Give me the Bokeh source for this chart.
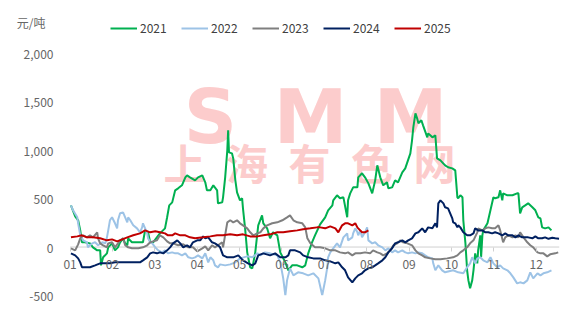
from bokeh.plotting import figure
from bokeh.models import (Range1d, FixedTicker, NumeralTickFormatter, Legend, LegendItem, Label)
from bokeh.embed import file_html
from bokeh.resources import INLINE

# ---- data (x = position in months from start of Jan, value in yuan/ton) ----
months = ["01", "02", "03", "04", "05", "06", "07", "08", "09", "10", "11", "12"]
years = ["2021", "2022", "2023", "2024", "2025"]
colors = ["#00B050", "#9DC3E6", "#7F7F7F", "#002060", "#C00000"]

d2021 = [(0.02,430),(0.12,317),(0.19,276),(0.24,172),(0.28,49),(0.35,49),(0.47,38),(0.54,-3),(0.64,-34),(0.71,-34),(0.73,-189),(0.78,-106),(0.87,-65),(0.90,-3),(0.99,38),(1.06,-34),(1.13,-3),(1.18,49),(1.25,90),(1.30,38),(1.35,18),(1.37,90),(1.46,49),(1.58,49),(1.72,49),(1.77,172),(1.84,152),(1.89,49),(1.96,49),(2.12,141),(2.24,193),(2.29,307),(2.34,430),(2.41,461),(2.48,585),(2.55,606),(2.64,637),(2.72,719),(2.76,740),(2.83,719),(2.95,688),(3.02,719),(3.12,740),(3.19,668),(3.23,585),(3.31,585),(3.38,637),(3.47,585),(3.49,451),(3.59,461),(3.61,513),(3.66,719),(3.71,998),(3.73,1204),(3.75,977),(3.82,967),(3.85,915),(3.90,688),(3.94,565),(4.01,482),(4.06,503),(4.08,399),(4.13,193),(4.18,-55),(4.25,-209),(4.30,-220),(4.37,-55),(4.44,224),(4.53,327),(4.56,245),(4.65,193),(4.72,90),(4.79,152),(4.89,121),(4.96,-55),(5.08,-158),(5.15,-240),(5.24,-189),(5.36,-189),(5.48,-209),(5.55,-189),(5.62,-65),(5.71,49),(5.78,121),(5.90,234),(6.02,307),(6.09,379),(6.19,430),(6.21,482),(6.30,534),(6.37,503),(6.45,513),(6.54,307),(6.56,482),(6.61,554),(6.68,616),(6.78,616),(6.80,719),(6.89,761),(6.96,719),(7.04,657),(7.13,554),(7.20,688),(7.25,843),(7.32,719),(7.39,637),(7.48,668),(7.51,606),(7.60,616),(7.67,688),(7.74,668),(7.84,771),(7.91,812),(8.03,967),(8.07,1101),(8.10,1235),(8.15,1380),(8.19,1328),(8.22,1277),(8.29,1308),(8.33,1256),(8.43,1132),(8.45,1173),(8.50,1153),(8.55,1132),(8.62,1153),(8.66,915),(8.74,895),(8.85,843),(8.92,823),(9.02,812),(9.09,791),(9.14,513),(9.16,503),(9.21,534),(9.26,513),(9.28,276),(9.33,38),(9.37,-240),(9.40,-344),(9.44,-426),(9.49,-344),(9.52,-240),(9.56,-65),(9.61,-168),(9.63,-34),(9.68,121),(9.70,-106),(9.73,121),(9.75,172),(9.85,245),(9.92,379),(9.99,513),(10.03,503),(10.11,513),(10.15,585),(10.20,482),(10.22,554),(10.32,534),(10.44,534),(10.55,554),(10.58,554),(10.62,348),(10.67,410),(10.74,430),(10.81,451),(10.91,410),(10.98,379),(11.05,307),(11.10,296),(11.14,203),(11.21,193),(11.29,203),(11.36,172)]

d2022 = [(0.02,430),(0.07,379),(0.17,307),(0.19,245),(0.24,121),(0.28,90),(0.31,69),(0.40,49),(0.42,-3),(0.52,38),(0.59,49),(0.66,18),(0.76,49),(0.83,38),(0.87,100),(0.90,172),(0.94,276),(0.99,307),(1.06,245),(1.11,193),(1.13,276),(1.18,348),(1.25,358),(1.30,307),(1.35,255),(1.37,307),(1.42,276),(1.49,224),(1.58,193),(1.65,152),(1.70,203),(1.72,245),(1.77,193),(1.82,141),(1.84,90),(1.89,49),(1.94,38),(2.01,-3),(2.08,-34),(2.17,-55),(2.24,-34),(2.31,-65),(2.41,-55),(2.48,-65),(2.55,-65),(2.64,-86),(2.72,-65),(2.79,-106),(2.88,-117),(2.95,-106),(3.02,-86),(3.12,-117),(3.19,-65),(3.26,-158),(3.31,-106),(3.38,-137),(3.42,-189),(3.49,-209),(3.54,-179),(3.66,-189),(3.78,-179),(3.90,-158),(4.01,-117),(4.18,-96),(4.30,-106),(4.42,-65),(4.49,-86),(4.60,-55),(4.72,-65),(4.89,-86),(4.96,-158),(5.03,-323),(5.08,-498),(5.12,-344),(5.19,-220),(5.27,-292),(5.38,-261),(5.50,-271),(5.62,-292),(5.74,-271),(5.86,-323),(5.95,-498),(6.02,-344),(6.07,-209),(6.09,-106),(6.14,-55),(6.21,-13),(6.30,38),(6.37,-3),(6.45,100),(6.54,141),(6.56,69),(6.66,100),(6.68,141),(6.73,193),(6.78,152),(6.80,121),(6.85,172),(6.89,100),(6.96,152),(7.01,203),(7.04,69),(7.13,38),(7.20,49),(7.27,18),(7.37,-3),(7.44,-34),(7.51,-13),(7.60,-55),(7.67,-34),(7.74,-55),(7.84,-34),(7.91,-55),(7.98,-65),(8.07,-55),(8.15,-65),(8.22,-55),(8.31,-65),(8.38,-86),(8.45,-106),(8.55,-117),(8.57,-168),(8.62,-240),(8.69,-189),(8.78,-240),(8.85,-261),(9.04,-240),(9.16,-261),(9.28,-271),(9.37,-209),(9.44,-168),(9.49,-106),(9.56,-168),(9.61,-117),(9.68,-106),(9.75,-137),(9.85,-158),(9.92,-106),(9.99,-168),(10.08,-209),(10.15,-189),(10.22,-220),(10.32,-240),(10.39,-271),(10.46,-313),(10.55,-375),(10.62,-364),(10.70,-375),(10.79,-344),(10.86,-261),(10.93,-323),(11.03,-271),(11.10,-292),(11.17,-271),(11.26,-261),(11.36,-240)]

d2023 = [(0.02,-13),(0.12,-34),(0.19,28),(0.24,90),(0.31,121),(0.40,100),(0.47,121),(0.54,100),(0.64,152),(0.66,90),(0.71,38),(0.78,18),(0.87,-3),(0.90,38),(0.99,49),(1.06,-3),(1.13,38),(1.18,69),(1.25,90),(1.30,18),(1.37,-3),(1.46,-13),(1.53,-13),(1.61,-13),(1.72,-3),(1.82,18),(1.89,49),(1.96,59),(2.05,69),(2.12,121),(2.20,100),(2.29,59),(2.36,38),(2.43,38),(2.55,18),(2.67,28),(2.79,-3),(2.90,-3),(3.00,-44),(3.12,-13),(3.19,7),(3.26,-34),(3.35,18),(3.42,-3),(3.49,18),(3.59,49),(3.61,-3),(3.71,255),(3.78,276),(3.85,255),(3.94,276),(4.01,245),(4.08,224),(4.18,193),(4.25,152),(4.32,121),(4.42,141),(4.49,152),(4.56,193),(4.65,224),(4.77,245),(4.89,255),(5.01,276),(5.12,307),(5.19,327),(5.27,276),(5.36,255),(5.48,245),(5.55,203),(5.60,90),(5.67,38),(5.78,-3),(5.90,-3),(6.02,-13),(6.14,-34),(6.26,-34),(6.37,-55),(6.49,-65),(6.56,-55),(6.66,-86),(6.73,-65),(6.85,-65),(6.96,-55),(7.08,-65),(7.15,-34),(7.25,-55),(7.32,-65),(7.39,-86),(7.48,-65),(7.56,-34),(7.63,18),(7.72,38),(7.79,69),(7.86,49),(7.96,38),(8.07,18),(8.15,-34),(8.22,-65),(8.31,-86),(8.38,-106),(8.50,-117),(8.62,-127),(8.74,-127),(8.90,-117),(9.04,-106),(9.14,-86),(9.21,-55),(9.28,-34),(9.37,-3),(9.44,38),(9.52,69),(9.61,152),(9.63,193),(9.73,172),(9.80,193),(9.87,203),(9.96,193),(10.03,193),(10.11,224),(10.15,172),(10.22,49),(10.27,100),(10.34,121),(10.44,100),(10.51,121),(10.58,100),(10.62,152),(10.70,100),(10.79,49),(10.86,18),(10.93,-3),(11.03,-55),(11.10,-65),(11.17,-65),(11.26,-96),(11.33,-75),(11.45,-65),(11.52,-55)]

d2024 = [(0.02,-65),(0.12,-86),(0.19,-117),(0.24,-158),(0.28,-209),(0.35,-209),(0.47,-209),(0.59,-189),(0.71,-168),(0.83,-168),(0.94,-168),(1.06,-158),(1.18,-158),(1.30,-158),(1.42,-158),(1.53,-158),(1.65,-158),(1.72,-137),(1.82,-106),(1.89,-65),(1.96,-55),(2.05,-65),(2.12,-55),(2.20,-65),(2.29,-34),(2.36,-3),(2.43,38),(2.53,69),(2.60,38),(2.67,-3),(2.76,18),(2.83,-3),(2.90,49),(3.00,69),(3.07,69),(3.14,110),(3.19,90),(3.26,100),(3.35,49),(3.42,38),(3.49,18),(3.54,-3),(3.61,-86),(3.71,-106),(3.85,-106),(3.97,-86),(4.08,-137),(4.20,-168),(4.30,-189),(4.37,-168),(4.44,-86),(4.56,-65),(4.72,-86),(4.84,-65),(4.96,-106),(5.08,-106),(5.15,-86),(5.19,-34),(5.31,-34),(5.43,-55),(5.50,-86),(5.62,-106),(5.74,-117),(5.90,-117),(6.02,-137),(6.14,-148),(6.26,-168),(6.33,-158),(6.42,-209),(6.49,-240),(6.56,-313),(6.66,-364),(6.73,-323),(6.80,-292),(6.89,-271),(6.96,-240),(7.04,-220),(7.13,-209),(7.20,-189),(7.27,-168),(7.37,-137),(7.44,-106),(7.51,-55),(7.60,-13),(7.67,38),(7.74,49),(7.84,69),(7.91,49),(7.98,69),(8.07,90),(8.15,141),(8.22,152),(8.31,193),(8.38,152),(8.45,203),(8.55,193),(8.62,245),(8.66,203),(8.69,451),(8.74,482),(8.81,451),(8.85,410),(8.92,399),(8.97,348),(9.02,296),(9.04,255),(9.09,245),(9.14,203),(9.16,224),(9.21,203),(9.28,152),(9.37,121),(9.44,121),(9.52,141),(9.56,193),(9.63,172),(9.73,172),(9.80,152),(9.87,152),(9.96,141),(10.03,152),(10.11,141),(10.20,121),(10.27,141),(10.34,121),(10.44,121),(10.51,100),(10.58,121),(10.67,100),(10.74,100),(10.81,100),(10.91,90),(10.98,110),(11.05,90),(11.14,90),(11.21,100),(11.29,85),(11.38,95),(11.45,90),(11.54,85)]

d2025 = [(0.02,100),(0.17,110),(0.28,121),(0.40,100),(0.54,100),(0.71,90),(0.87,69),(0.99,79),(1.11,59),(1.23,79),(1.35,100),(1.49,121),(1.65,141),(1.77,172),(1.89,152),(2.01,162),(2.12,152),(2.24,141),(2.31,121),(2.41,121),(2.48,141),(2.60,121),(2.72,121),(2.83,100),(2.95,90),(3.14,100),(3.31,110),(3.47,121),(3.61,121),(3.78,131),(3.94,121),(4.08,131),(4.25,110),(4.42,110),(4.56,121),(4.72,131),(4.89,152),(5.03,152),(5.19,162),(5.36,172),(5.50,183),(5.67,193),(5.83,203),(5.90,203),(6.02,193),(6.14,214),(6.26,193),(6.33,152),(6.42,224),(6.49,245),(6.56,245),(6.66,224),(6.73,245),(6.78,203),(6.80,193),(6.89,152),(6.96,152),(7.04,172)]

series = [d2021, d2022, d2023, d2024, d2025]
y_ticks = [-500, 0, 500, 1000, 1500, 2000]
unit_label = "元/吨"
watermark_en = "SMM"
watermark_cn = "上海有色网"

FONT = "Noto Sans CJK SC"
X_END = 11.55
UNIT_POS = 2317  # vertical spot of the unit text, in axis units

p = figure(width=581, height=327, output_backend="svg", toolbar_location=None,
           x_range=Range1d(-0.25, X_END), y_range=Range1d(-500, 2544),
           min_border_left=59, min_border_right=22, min_border_top=0, min_border_bottom=32)
p.outline_line_color = None
p.background_fill_color = "white"
p.border_fill_color = "white"
p.xgrid.visible = False
p.ygrid.visible = False

# watermark
for i, ch in enumerate(watermark_en):
    p.add_layout(Label(x=151 + 100 * i, y=179, x_units="screen", y_units="screen", text=ch,
                       text_font="DejaVu Sans", text_font_style="bold", text_font_size="74px",
                       text_color="#fccccc", text_align="center", text_baseline="middle",
                       level="underlay"))
for i, ch in enumerate(watermark_cn):
    p.add_layout(Label(x=125 + 62.5 * i, y=134, x_units="screen", y_units="screen", text=ch,
                       text_font=FONT, text_font_style="bold", text_font_size="42px",
                       text_color="#fccccc", text_align="center", text_baseline="middle",
                       level="underlay"))

# zero line (category axis line)
p.segment(x0=[0], y0=[0], x1=[X_END], y1=[0], line_color="#d0d0d0", line_width=1)

items = []
for name, col, d in zip(years, colors, series):
    xs = [a for a, b in d]
    ys = [b for a, b in d]
    r = p.line(xs, ys, line_color=col, line_width=2)
    items.append(LegendItem(label=name, renderers=[r]))

legend = Legend(items=items, orientation="horizontal", location=(51, 259),
                padding=0, margin=0, spacing=1, glyph_width=27, glyph_height=14,
                label_height=14, label_width=40, label_standoff=3,
                border_line_color=None, background_fill_alpha=0,
                label_text_font=FONT, label_text_font_size="12px", label_text_color="#404040")
p.add_layout(legend)

# x axis at zero
xa = p.xaxis[0]
xa.fixed_location = 0
xa.ticker = FixedTicker(ticks=list(range(len(months))))
xa.major_label_overrides = {i: m for i, m in enumerate(months)}
xa.axis_line_color = None
xa.major_tick_line_color = "#d0d0d0"
xa.major_tick_out = 4
xa.major_tick_in = 0
xa.minor_tick_line_color = None
xa.major_label_standoff = 9
xa.major_label_text_font = FONT
xa.major_label_text_font_size = "12px"
xa.major_label_text_color = "#666666"

ya = p.yaxis[0]
ya.ticker = FixedTicker(ticks=y_ticks + [UNIT_POS])
ya.formatter = NumeralTickFormatter(format="0,0")
ya.major_label_overrides = {UNIT_POS: unit_label + "\u00a0\u00a0\u00a0"}
ya.axis_line_color = None
ya.major_tick_line_color = None
ya.minor_tick_line_color = None
ya.major_tick_out = 0
ya.major_label_standoff = 6
ya.major_label_text_font = FONT
ya.major_label_text_font_size = "12px"
ya.major_label_text_color = "#666666"

open("out.html", "w").write(file_html(p, INLINE))
